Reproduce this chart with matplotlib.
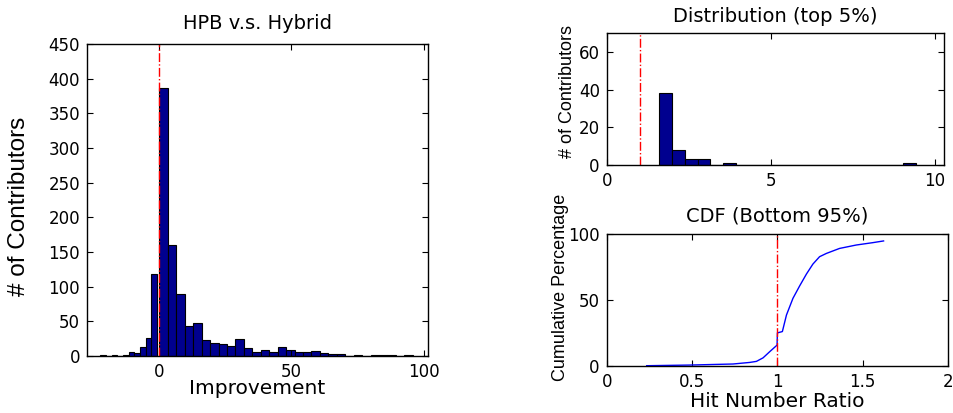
import matplotlib
matplotlib.use("agg")
import matplotlib.pyplot as plt
import numpy as np

plt.rcParams["font.family"] = ["DejaVu Sans"]
plt.rcParams["xtick.direction"] = "in"
plt.rcParams["ytick.direction"] = "in"
plt.rcParams["xtick.top"] = True
plt.rcParams["ytick.right"] = True

NARROW = ["Liberation Sans Narrow", "Liberation Sans", "DejaVu Sans"]
BAR = "#00008f"

# improvement histogram: negative side and positive side binned separately
neg_range = (-22.0, -0.7)
neg_counts = [2, 0, 2, 0, 1, 6, 5, 13, 26, 118]
pos_range = (0.3, 95.7)
pos_counts = [386, 160, 89, 43, 48, 23, 19, 18, 15, 25,
              11, 6, 8, 6, 13, 8, 6, 6, 7, 5,
              3, 3, 0, 1, 0, 1, 1, 1, 0, 1]

# hit number ratio, top 5%
top_range = (1.6, 9.42)
top_counts = [38, 8, 3, 3, 0, 1, 0, 0, 0, 0,
              0, 0, 0, 0, 0, 0, 0, 0, 0, 1]

# hit number ratio CDF, bottom 95%
cdf_ratio = [0.234, 0.487, 0.74, 0.838, 0.877, 0.916, 0.955, 0.998, 1.0,
             1.029, 1.053, 1.091, 1.13, 1.17, 1.208, 1.247, 1.287, 1.364,
             1.462, 1.559, 1.622]
cdf_pct = [0.0, 0.5, 1.3, 2.5, 3.3, 6.0, 10.7, 15.7, 25.0,
           26.0, 38.6, 51.3, 60.7, 69.8, 77.4, 83.0, 85.5, 89.3,
           91.9, 93.7, 95.0]


def hist_bars(ax, rng, counts):
    edges = np.linspace(rng[0], rng[1], len(counts) + 1)
    ax.bar(edges[:-1], counts, width=np.diff(edges), align="edge",
           color=BAR, edgecolor="black", linewidth=0.8)


def style(ax):
    for s in ax.spines.values():
        s.set_linewidth(1.0)
    ax.tick_params(labelsize=12, length=4, width=0.8, pad=5)


fig = plt.figure(figsize=(9.54, 4.13), dpi=100)

ax1 = fig.add_axes([0.0912, 0.138, 0.357, 0.7554])
hist_bars(ax1, neg_range, neg_counts)
hist_bars(ax1, pos_range, pos_counts)
ax1.axvline(0, color="red", linestyle="-.", linewidth=1)
ax1.set_xlim(-27, 101.3)
ax1.set_ylim(0, 450)
ax1.set_xticks([0, 50, 100])
ax1.set_yticks(range(0, 451, 50))
ax1.set_title("HPB v.s. Hybrid", fontsize=14, pad=11)
ax1.set_xlabel("Improvement", fontsize=14.5)
ax1.xaxis.set_label_coords(0.5, -0.075)
ax1.set_ylabel("# of Contributors", fontsize=17.5, family=NARROW)
ax1.yaxis.set_label_coords(-0.167, 0.48)
style(ax1)

ax2 = fig.add_axes([0.636, 0.6005, 0.353, 0.319])
hist_bars(ax2, top_range, top_counts)
ax2.axvline(1, color="red", linestyle="-.", linewidth=1)
ax2.set_xlim(0, 10.27)
ax2.set_ylim(0, 70)
ax2.set_xticks([0, 5, 10])
ax2.set_yticks([0, 20, 40, 60])
ax2.set_title("Distribution (top 5%)", fontsize=14, pad=8)
ax2.set_ylabel("# of Contributors", fontsize=13, family=NARROW)
ax2.yaxis.set_label_coords(-0.09, 0.56)
style(ax2)

ax3 = fig.add_axes([0.636, 0.1145, 0.3578, 0.318])
ax3.plot(cdf_ratio, cdf_pct, color="blue", linewidth=1)
ax3.axvline(1, color="red", linestyle="-.", linewidth=1)
ax3.set_xlim(0, 2)
ax3.set_ylim(0, 100)
ax3.set_xticks([0, 0.5, 1, 1.5, 2])
ax3.set_xticklabels(["0", "0.5", "1", "1.5", "2"])
ax3.set_yticks([0, 50, 100])
ax3.set_title("CDF (Bottom 95%)", fontsize=14, pad=9)
ax3.set_xlabel("Hit Number Ratio", fontsize=14.5)
ax3.xaxis.set_label_coords(0.5, -0.2)
ax3.set_ylabel("Cumulative Percentage", fontsize=13, family=NARROW)
ax3.yaxis.set_label_coords(-0.112, 0.6)
style(ax3)

fig.savefig("out.png", dpi=100)
